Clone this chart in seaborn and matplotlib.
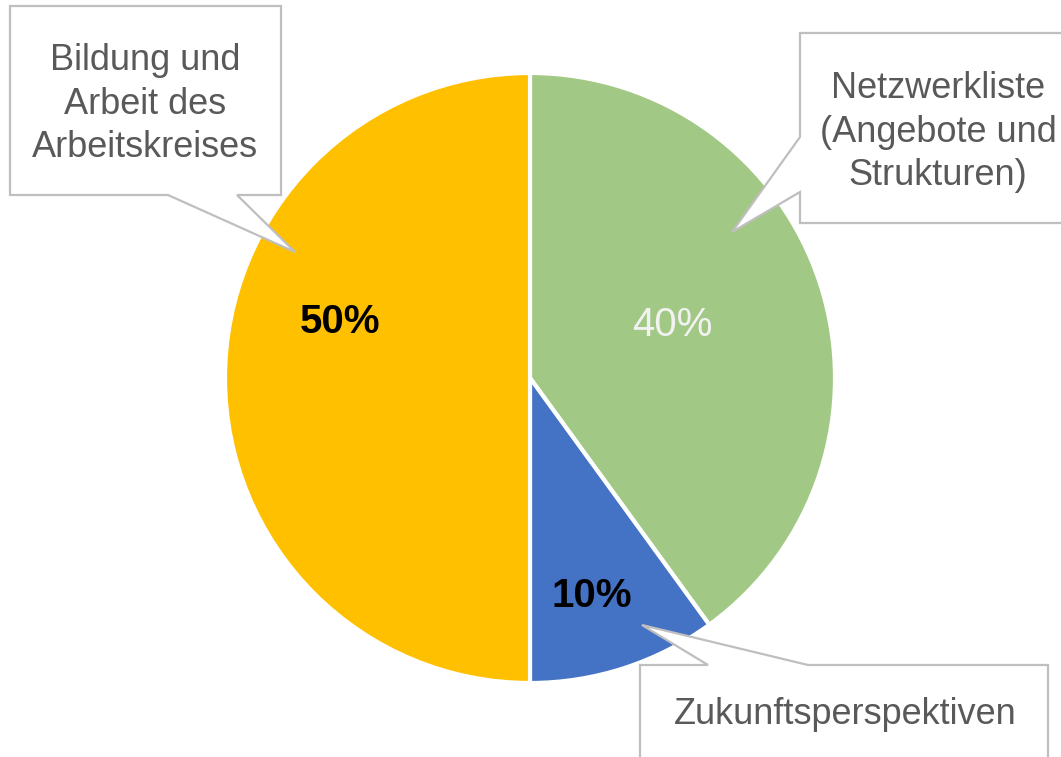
import matplotlib
matplotlib.use("Agg")
import matplotlib.pyplot as plt
import seaborn as sns
from matplotlib.patches import Polygon

# data
labels = ["Netzwerkliste\n(Angebote und\nStrukturen)", "Zukunftsperspektiven",
          "Bildung und\nArbeit des\nArbeitskreises"]
shares = [40, 10, 50]
colors = ["#A1C884", "#4472C4", "#FFC000"]

sns.set_style("white")
plt.rcParams["font.family"] = ["Liberation Sans", "DejaVu Sans"]

W, H = 1061, 757
fig = plt.figure(figsize=(W / 100, H / 100), dpi=100)
ax = fig.add_axes([0, 0, 1, 1])

cx, cy, rad = 530, H - 378, 305
wedges, _, autotexts = ax.pie(
    shares, colors=colors, startangle=90, counterclock=False,
    center=(cx, cy), radius=rad, autopct="%d%%", pctdistance=0.6,
    wedgeprops=dict(edgecolor="white", linewidth=3), frame=True)
ax.set_xlim(0, W)
ax.set_ylim(0, H)
ax.set_aspect("equal")
ax.axis("off")

# percentage labels (Excel-like placement and styling)
pct_pos = [(672, 325), (592, 596), (340, 322)]
pct_style = [dict(color="#F2F2F2", weight="normal"),
             dict(color="black", weight="bold"),
             dict(color="black", weight="bold")]
for t, (px, py), st in zip(autotexts, pct_pos, pct_style):
    t.set_position((px, H - py))
    t.set_fontsize(29)
    t.set_color(st["color"])
    t.set_fontweight(st["weight"])


def callout(box, base, tip, side):
    L, T, R, B = box
    if side == "bottom":
        pts = [(L, T), (R, T), (R, B), (base[1], B), tip, (base[0], B), (L, B)]
    elif side == "left":
        pts = [(L, T), (R, T), (R, B), (L, B), (L, base[1]), tip, (L, base[0])]
    else:  # top
        pts = [(L, T), (base[0], T), tip, (base[1], T), (R, T), (R, B), (L, B)]
    pts = [(x, H - y) for x, y in pts]
    ax.add_patch(Polygon(pts, closed=True, fc="white", ec="#BFBFBF", lw=1.6,
                         zorder=5, clip_on=False))


callout((10, 6, 281, 195), (168, 237), (295, 252), "bottom")
callout((800, 33, 1070, 223), (137, 192), (732, 232), "left")
callout((640, 665, 1048, 780), (708, 808), (642, 625), "top")

txt = dict(color="#595959", fontsize=26, ha="center", va="center",
           linespacing=1.3, zorder=6)
ax.text(145, H - 104, labels[2], **txt)
ax.text(938, H - 132, labels[0], **txt)
ax.text(845, H - 715, labels[1], **txt)

fig.savefig("out.png", dpi=100, facecolor="white")
